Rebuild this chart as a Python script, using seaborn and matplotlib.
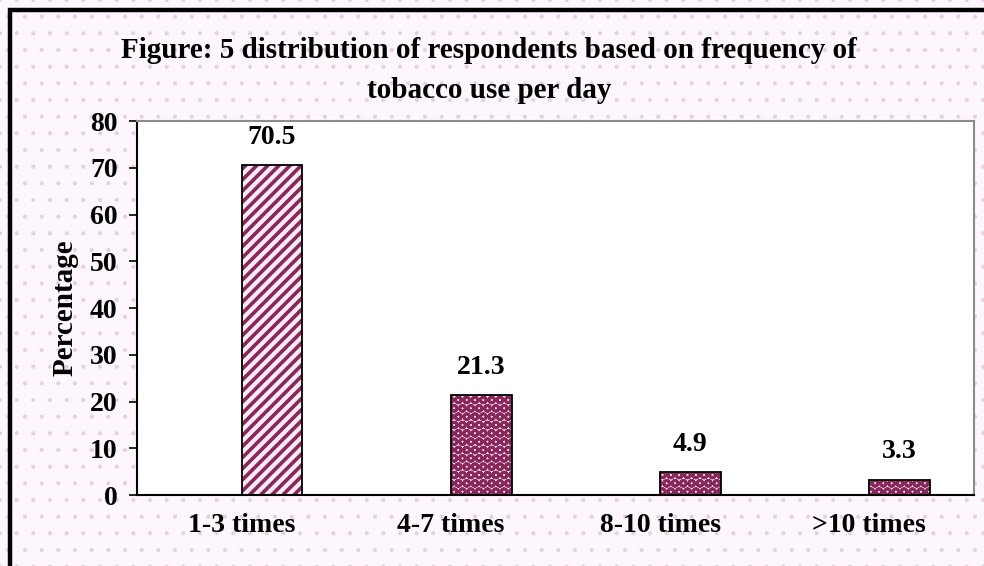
import matplotlib
matplotlib.use("Agg")
import matplotlib.pyplot as plt
from matplotlib.patches import Rectangle
import seaborn as sns
import pandas as pd

# Frequency of tobacco use per day (percentage of respondents)
categories = ["1-3 times", "4-7 times", "8-10 times", ">10 times"]
percentages = [70.5, 21.3, 4.9, 3.3]
y_ticks = [0, 10, 20, 30, 40, 50, 60, 70, 80]

title_text = "Figure: 5 distribution of respondents based on frequency of\ntobacco use per day"
y_label = "Percentage"

df = pd.DataFrame({"category": categories, "percentage": percentages})

sns.set_theme(style="white")
plt.rcParams["font.family"] = ["Liberation Serif", "DejaVu Serif"]
plt.rcParams["font.weight"] = "bold"
plt.rcParams["hatch.linewidth"] = 2.6
for key in ["text.color", "axes.labelcolor", "xtick.color", "ytick.color"]:
    plt.rcParams[key] = "black"


def hatch_width(patch, width):
    if hasattr(patch, "set_hatch_linewidth"):
        patch.set_hatch_linewidth(width)


fig = plt.figure(figsize=(9.84, 5.66), dpi=100)
fig.patch.set_facecolor("#fdf6fc")

# dotted page background
bg = Rectangle((0, 0), 1, 1, transform=fig.transFigure, facecolor="none",
               edgecolor="#e4d0e0", hatch=".", linewidth=0, zorder=-10)
hatch_width(bg, 0.5)
fig.patches.append(bg)

ax = fig.add_axes([0.1392, 0.1254, 0.8506, 0.6608])
ax.set_facecolor("white")

face_colors = ["#fdeaf6", "#fad6f0", "#fad6f0", "#fad6f0"]
hatches = ["///", "OO", "OO", "OO"]
hatch_widths = [2.6, 2.0, 2.0, 2.0]
pattern_color = "#862858"

sns.barplot(data=df, x="category", y="percentage", hue="category",
            palette=face_colors, legend=False, width=0.29,
            edgecolor=pattern_color, linewidth=0, saturation=1, ax=ax)

# bars start at the category centre; add hatch and black outline
for patch, h, hw in zip(ax.patches, hatches, hatch_widths):
    patch.set_x(patch.get_x() + patch.get_width() / 2)
    patch.set_hatch(h)
    hatch_width(patch, hw)
    outline = Rectangle((patch.get_x(), patch.get_y()), patch.get_width(),
                        patch.get_height(), fill=False, edgecolor="black",
                        linewidth=1.3, zorder=patch.get_zorder() + 1)
    ax.add_patch(outline)

for container in ax.containers:
    ax.bar_label(container, fmt="%.1f", padding=11, fontsize=20,
                 fontweight="bold", color="black")

ax.set_ylim(0, 80)
ax.set_xlim(-0.5, len(categories) - 0.5)
ax.set_yticks(y_ticks)
ax.set_yticklabels([str(t) for t in y_ticks], fontsize=20, fontweight="bold")
ax.set_xticks(range(len(categories)))
ax.set_xticklabels(categories, fontsize=20, fontweight="bold")
ax.set_xticks([i - 0.5 for i in range(len(categories) + 1)], minor=True)
ax.tick_params(axis="x", which="major", length=0, pad=13)
ax.tick_params(axis="x", which="minor", length=9, width=1.2, color="black",
               direction="out")
ax.tick_params(axis="y", which="major", length=6, width=1.2, color="black",
               direction="out", pad=8, left=True)
ax.set_xlabel("")
ax.set_ylabel(y_label, fontsize=21, fontweight="bold", labelpad=8)

for side in ["left", "bottom"]:
    ax.spines[side].set_color("black")
    ax.spines[side].set_linewidth(1.5)
for side in ["top", "right"]:
    ax.spines[side].set_color("#8c8c8c")
    ax.spines[side].set_linewidth(1.5)

fig.text(0.497, 0.875, title_text, ha="center", va="center", fontsize=21,
         fontweight="bold", linespacing=1.6)

# outer frame
frame = Rectangle((10 / 984, -0.2), 2.0, 1.2 - 10 / 566, transform=fig.transFigure,
                  fill=False, edgecolor="black", linewidth=3.2, clip_on=False)
fig.patches.append(frame)

fig.savefig("out.png", dpi=100, facecolor=fig.get_facecolor())
